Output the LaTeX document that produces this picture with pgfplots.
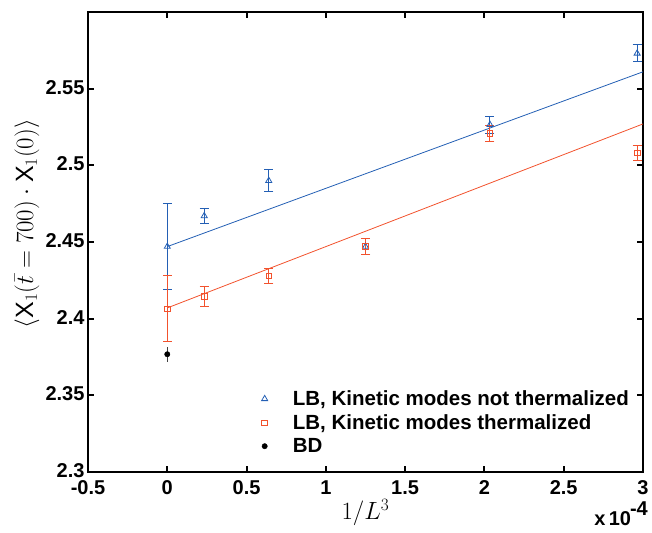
\documentclass[border=0pt]{standalone}
\usepackage{fontspec}
\setmainfont{Liberation Sans}
\usepackage{pgfplots}
\pgfplotsset{compat=1.18}
\definecolor{blueC}{RGB}{35,95,180}
\definecolor{redC}{RGB}{242,82,45}
\begin{document}
\begin{tikzpicture}
\path[use as bounding box] (-88pt,-60pt) rectangle (564pt,472pt);
\begin{axis}[
  scale only axis,
  width=555pt, height=460pt,
  xmin=-0.5, xmax=3, ymin=2.3, ymax=2.6,
  xtick={-0.5,0,0.5,1,1.5,2,2.5,3},
  ytick={2.3,2.35,2.4,2.45,2.5,2.55},
  yticklabels={2.3,2.35,2.4,2.45,2.5,2.55},
  /pgf/number format/assume math mode=true,
  ticklabel style={font=\bfseries\fontsize{20}{20}\selectfont},
  xticklabel style={yshift=-5pt},
  yticklabel style={yshift=1.5pt},
  tick align=inside,
  major tick length=6pt,
  tick style={line width=2pt, black},
  axis line style={line width=2.2pt},
  xlabel={$1/L^3$},
  xlabel style={font=\fontsize{26}{26}\selectfont, at={(axis description cs:0.5,-0.088)}, anchor=center},
  ylabel={$\langle \mathrm{X}_1(\bar{t}=700)\cdot \mathrm{X}_1(0)\rangle$},
  ylabel style={font=\fontsize{25}{25}\selectfont, at={(axis description cs:-0.11,0.54)}, anchor=center},
  legend cell align=left,
  legend image code/.code={\draw[#1] plot coordinates {(0cm,0cm)}; \path (-4pt,0pt) (26pt,0pt);},
  legend style={draw=none, fill=none, font=\bfseries\fontsize{20.5}{24}\selectfont,
    at={(0.305,0.03)}, anchor=south west, row sep=3.5pt},
]
\addplot[blueC, line width=0.8pt, forget plot] coordinates {(0,2.447) (3,2.561)};
\addplot[redC, line width=0.8pt, forget plot] coordinates {(0,2.407) (3,2.527)};
\addplot[blueC, only marks, mark=triangle, mark size=3.5pt, mark options={line width=0.8pt},
  error bars/.cd, y dir=both, y explicit,
  error bar style={line width=1pt, blueC},
  error mark options={rotate=90, mark size=4.5pt, line width=1pt, blueC}]
  table[x=x, y=y, y error=e] {
x y e
0 2.447 0.028
0.233 2.467 0.005
0.640 2.4900 0.007
1.250 2.447 0.005
2.035 2.5265 0.0055
2.963 2.5730 0.0055
};
\addlegendentry{LB, Kinetic modes not thermalized}
\addplot[redC, only marks, mark=square, mark size=2.8pt, mark options={line width=0.8pt},
  error bars/.cd, y dir=both, y explicit,
  error bar style={line width=1pt, redC},
  error mark options={rotate=90, mark size=4.5pt, line width=1pt, redC}]
  table[x=x, y=y, y error=e] {
x y e
0 2.4065 0.0215
0.233 2.4147 0.0065
0.640 2.428 0.005
1.250 2.447 0.005
2.035 2.521 0.0053
2.963 2.508 0.005
};
\addlegendentry{LB, Kinetic modes thermalized}
\addplot[black, only marks, mark=*, mark size=2.7pt,
  error bars/.cd, y dir=both, y explicit, error bar style={line width=1pt, black!75}, error mark=none]
  table[x=x, y=y, y error=e] {
x y e
0 2.3768 0.005
};
\addlegendentry{BD}
\end{axis}
\node[anchor=base east, font=\bfseries\fontsize{20}{20}\selectfont, inner sep=0pt]
  at ([xshift=5pt,yshift=-53pt]current axis.south east) {x\,10\raisebox{10pt}{\kern-1pt -4}};
\end{tikzpicture}
\end{document}
